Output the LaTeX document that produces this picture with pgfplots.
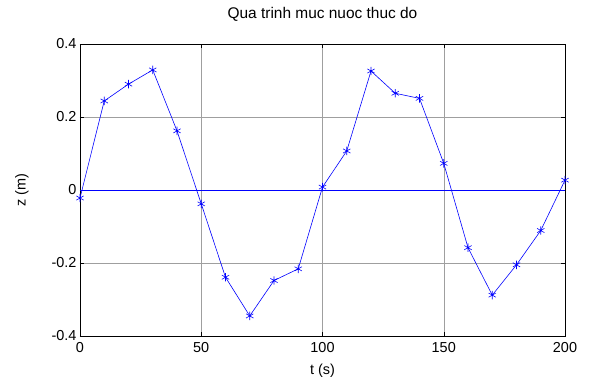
\documentclass[border=0pt]{standalone}
\usepackage{fontspec}
\setmainfont{Liberation Sans}
\usepackage{pgfplots}
\pgfplotsset{compat=1.18}
\begin{document}
\begin{tikzpicture}
\begin{axis}[
  name=ax,
  scale only axis,
  width=485bp, height=292bp,
  xmin=0, xmax=200, ymin=-0.4, ymax=0.4,
  xtick={0,50,100,150,200},
  ytick={-0.4,-0.2,0,0.2,0.4},
  yticklabels={-0.4,-0.2,0,0.2,0.4},
  /pgf/number format/assume math mode=true,
  ticklabel style={font=\fontsize{14.5}{17}\selectfont},
  xticklabel style={yshift=-3bp},
  tick align=inside,
  major tick length=4bp,
  tick style={black, line width=0.5pt},
  axis line style={black, line width=1pt},
  grid=major,
  major grid style={gray!75, line width=0.4pt},
  title={Qua trinh muc nuoc thuc do},
  title style={at={(axis description cs:0.5,1)}, anchor=center, yshift=24bp, font=\fontsize{15.5}{18}\selectfont},
  xlabel={t (s)},
  xlabel style={at={(axis description cs:0.5,0)}, anchor=center, yshift=-35bp, font=\fontsize{14.5}{17}\selectfont},
  ylabel={z (m)},
  every axis y label/.style={at={(axis description cs:0,0.5)}, anchor=center, rotate=90, yshift=58bp, font=\fontsize{14.5}{17}\selectfont},
  clip=false,
]
\addplot[blue, line width=0.6pt, forget plot] coordinates {(0,0) (200,0)};
\addplot[blue, line width=0.6pt, mark=asterisk, mark size=4.2bp, mark options={line width=0.6pt}] coordinates {
(0,-0.022) (10,0.244) (20,0.290) (30,0.329) (40,0.162) (50,-0.038)
(60,-0.239) (70,-0.345) (80,-0.248) (90,-0.216) (100,0.008)
(110,0.107) (120,0.326) (130,0.265) (140,0.251) (150,0.073)
(160,-0.158) (170,-0.288) (180,-0.205) (190,-0.111) (200,0.027)
};
\end{axis}
\pgfresetboundingbox
\path[use as bounding box] ([xshift=-80bp,yshift=-45bp]ax.south west) rectangle ([xshift=24bp,yshift=44bp]ax.north east);
\end{tikzpicture}
\end{document}
